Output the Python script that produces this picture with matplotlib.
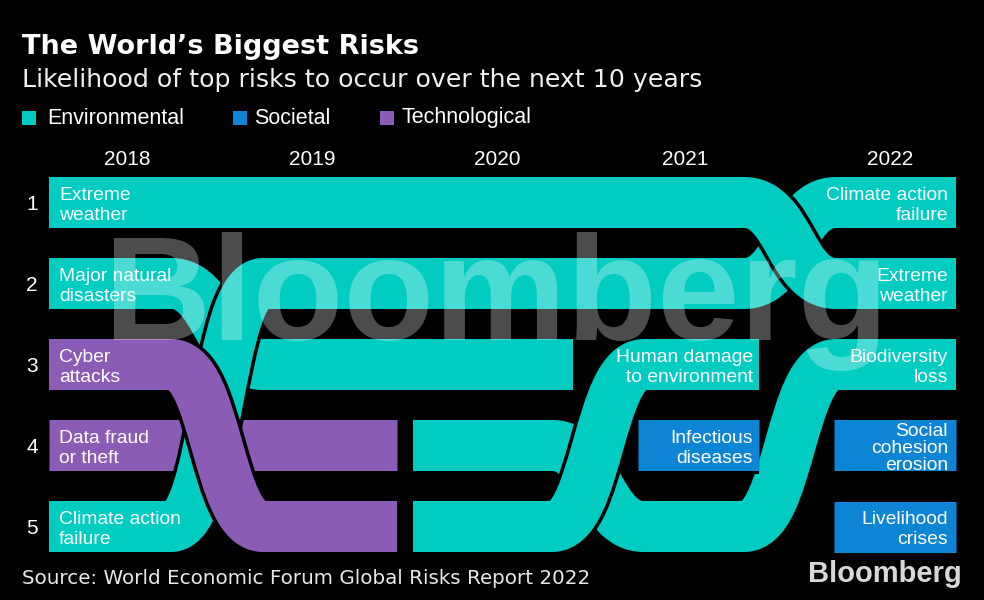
import matplotlib
matplotlib.use('Agg')
import matplotlib.pyplot as plt
from matplotlib.path import Path
from matplotlib.patches import PathPatch, Rectangle
import matplotlib.transforms as mtransforms

# rank of each risk per year (None = not in the top five)
years = [2018, 2019, 2020, 2021, 2022]
extreme_weather = [1, 1, 1, 1, 2]
natural_disasters = [2, 3, 3, None, None]
cyber_attacks = [3, 5, None, None, None]
data_fraud = [4, 4, None, None, None]
climate_action = [5, 2, 2, 2, 1]
biodiversity = [None, None, 4, 5, 3]
human_damage = [None, None, 5, 3, None]
infectious = [None, None, None, 4, None]
social_cohesion = [None, None, None, None, 4]
livelihood = [None, None, None, None, 5]

labels_2018 = ['Extreme\nweather', 'Major natural\ndisasters', 'Cyber\nattacks',
               'Data fraud\nor theft', 'Climate action\nfailure']
labels_2021 = ['Human damage\nto environment', 'Infectious\ndiseases']
label_ranks_2021 = [3, 4]
labels_2022 = ['Climate action\nfailure', 'Extreme\nweather', 'Biodiversity\nloss',
               'Social\ncohesion\nerosion', 'Livelihood\ncrises']

categories = ['Environmental', 'Societal', 'Technological']

ENV = '#00CCC2'
SOC = '#0E85D4'
TECH = '#8B5CB6'
cat_colors = [ENV, SOC, TECH]

# layout (pixel units along x)
bar_start = [49, 245, 413, 638, 834]
bar_end = [183, 397, 573, 759, 956]
gap_mid = [217, 405, 598, 790]
curve_half = 46
year_x = [127, 312, 497, 685, 890]

W, H = 984, 600
fig = plt.figure(figsize=(W / 100, H / 100), dpi=100, facecolor='black')
ax = fig.add_axes([0, 0, 1, 1])
ax.set_facecolor('black')
ax.set_xlim(0, W)
ax.set_ylim(H / 81 - 1.5, -1.5)   # one rank step = 81 px
ax.axis('off')

band_lw = 51 * 0.72
edge_lw = 58 * 0.72


def ribbon_path(rank_list):
    idx = [i for i, r in enumerate(rank_list) if r is not None]
    first, last = idx[0], idx[-1]
    verts = [(bar_start[first], rank_list[first])]
    codes = [Path.MOVETO]
    for i in range(first, last):
        r0, r1 = rank_list[i], rank_list[i + 1]
        if r0 != r1:
            c = gap_mid[i]
            verts += [(c - curve_half, r0), (c, r0), (c, r1), (c + curve_half, r1)]
            codes += [Path.LINETO, Path.CURVE4, Path.CURVE4, Path.CURVE4]
    verts.append((bar_end[last], rank_list[last]))
    codes.append(Path.LINETO)
    return Path(verts, codes)


draw_order = [
    (data_fraud, TECH), (natural_disasters, ENV), (biodiversity, ENV),
    (climate_action, ENV), (human_damage, ENV), (cyber_attacks, TECH),
    (extreme_weather, ENV), (infectious, SOC), (social_cohesion, SOC),
    (livelihood, SOC),
]
for z, (ranks, col) in enumerate(draw_order):
    p = ribbon_path(ranks)
    ax.add_patch(PathPatch(p, facecolor='none', edgecolor='black', lw=edge_lw,
                           capstyle='butt', joinstyle='round', zorder=2 + z))
    ax.add_patch(PathPatch(p, facecolor='none', edgecolor=col, lw=band_lw,
                           capstyle='butt', joinstyle='round', zorder=2.5 + z))

lab_font = dict(family='Liberation Sans', fontsize=13.9, color='white',
                va='center', zorder=30, linespacing=1.27)
dy = 0.04
for r, t in enumerate(labels_2018, start=1):
    ax.text(bar_start[0] + 10, r + dy, t, ha='left', **lab_font)
for r, t in zip(label_ranks_2021, labels_2021):
    ax.text(bar_end[3] - 6, r + dy, t, ha='right', **lab_font)
for r, t in enumerate(labels_2022, start=1):
    f = dict(lab_font)
    if t.count('\n') > 1:
        f['linespacing'] = 1.0
    ax.text(bar_end[4] - 8, r + dy, t, ha='right', **f)

# rank numbers and years
for r in range(1, 6):
    ax.text(32, r + 0.02, str(r), ha='center', va='center', color='white',
            family='Liberation Sans', fontsize=15)
trans = mtransforms.blended_transform_factory(ax.transData, ax.transAxes)
for x, y in zip(year_x, years):
    ax.text(x, 1 - 160 / H, str(y), transform=trans, ha='center', va='center',
            color='white', family='Liberation Sans', fontsize=15)

# watermark
fig.text(104 / W, 1 - 340 / H, 'Bloomberg', ha='left', va='baseline',
         family='Liberation Sans', fontweight='bold', fontsize=107,
         color='white', alpha=0.3, zorder=50)

# titles
fig.text(22 / W, 1 - 47 / H, 'The World\u2019s Biggest Risks', ha='left', va='center',
         color='white', family='DejaVu Sans', fontweight='bold', fontsize=19.5)
fig.text(22 / W, 1 - 80 / H, 'Likelihood of top risks to occur over the next 10 years',
         ha='left', va='center', color='#f0f0f0', family='DejaVu Sans', fontsize=18.2)

# legend
leg_x = [22, 233, 380]
leg_text_x = [47, 254, 401]
for x, tx, name, col in zip(leg_x, leg_text_x, categories, cat_colors):
    fig.patches.append(Rectangle((x / W, 1 - 125 / H), 14 / W, 14 / H,
                                 transform=fig.transFigure, facecolor=col,
                                 edgecolor='none'))
    fig.text(tx / W, 1 - 118 / H, name, ha='left', va='center',
             color='white', family='Liberation Sans', fontsize=15.5)

fig.text(22 / W, 1 - 578 / H, 'Source: World Economic Forum Global Risks Report 2022',
         ha='left', va='center', color='#e8e8e8', family='DejaVu Sans', fontsize=14.3)
fig.text(962 / W, 1 - 582 / H, 'Bloomberg', ha='right', va='baseline',
         color='#d8d8d8', family='Liberation Sans', fontweight='bold', fontsize=21)

fig.savefig('out.png', dpi=100, facecolor='black')
